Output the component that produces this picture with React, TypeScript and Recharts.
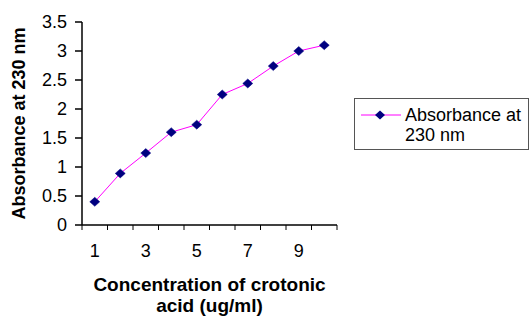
import { LineChart, Line, XAxis, YAxis, Legend } from 'recharts';

const concentration = [1, 2, 3, 4, 5, 6, 7, 8, 9, 10];
const absorbance = [0.4, 0.89, 1.24, 1.6, 1.73, 2.25, 2.44, 2.74, 3.0, 3.1];
const yTicks = [0, 0.5, 1, 1.5, 2, 2.5, 3, 3.5];
// tick marks sit between categories (half values), labels on odd ones
const xTickMarks = [0.5, 1.5, 2.5, 3.5, 4.5, 5.5, 6.5, 7.5, 8.5, 9.5, 10.5];
const xLabels = [1, 3, 5, 7, 9];
const xTicks = [...xTickMarks, ...xLabels].sort((a, b) => a - b);
const seriesName = 'Absorbance at 230 nm';

const FONT = '"Liberation Sans", Arial, sans-serif';
const LINE_COLOR = '#ff00ff';
const MARKER_COLOR = '#000080';

const chartData = concentration.map((x, i) => ({ x, y: absorbance[i] }));

const Diamond = (props: any) => {
  const { cx, cy } = props;
  if (cx == null || cy == null) return null;
  return (
    <polygon
      points={`${cx},${cy - 4.5} ${cx + 5},${cy} ${cx},${cy + 4.5} ${cx - 5},${cy}`}
      fill={MARKER_COLOR}
      stroke={MARKER_COLOR}
      strokeWidth={0.5}
    />
  );
};

const XTick = (props: any) => {
  const { x, y, payload } = props;
  const v = payload.value;
  if (xTickMarks.includes(v)) {
    return <line x1={x} y1={y - 5} x2={x} y2={y} stroke="#000" strokeWidth={1} />;
  }
  return (
    <text x={x} y={y + 27} textAnchor="middle" fontSize={18} fontFamily={FONT} fill="#000">
      {v}
    </text>
  );
};

const XTitle = (props: any) => {
  const vb = props.viewBox || {};
  const cx = vb.x + vb.width / 2;
  return (
    <text textAnchor="middle" fontSize={19} fontWeight="bold" fontFamily={FONT} fill="#000">
      <tspan x={cx} y={vb.y + 66}>Concentration of crotonic</tspan>
      <tspan x={cx} y={vb.y + 87}>acid (ug/ml)</tspan>
    </text>
  );
};

const YTitle = (props: any) => {
  const vb = props.viewBox || {};
  const cy = vb.y + vb.height / 2;
  return (
    <text
      x={19}
      y={cy}
      transform={`rotate(-90, 19, ${cy})`}
      textAnchor="middle"
      dominantBaseline="central"
      fontSize={18}
      fontWeight="bold"
      fontFamily={FONT}
      fill="#000"
    >
      {seriesName}
    </text>
  );
};

const renderLegend = () => (
  <svg width={175} height={52} style={{ display: 'block' }}>
    <rect x={0.5} y={0.5} width={174} height={51} fill="#fff" stroke="#555" strokeWidth={1} />
    <line x1={7} y1={17} x2={47} y2={17} stroke={LINE_COLOR} strokeWidth={1} />
    <polygon points="26,12.5 31,17 26,21.5 21,17" fill={MARKER_COLOR} />
    <text fontFamily={FONT} fontSize={18} fill="#000">
      <tspan x={51} y={23}>Absorbance at</tspan>
      <tspan x={51} y={43}>230 nm</tspan>
    </text>
  </svg>
);

export default function App() {
  return (
    <div style={{ position: 'absolute', left: 0, top: 0, width: 530, height: 316, overflow: 'hidden', background: '#fff' }}>
      <LineChart width={530} height={316} data={chartData} margin={{ top: 22, right: 193, bottom: 0, left: 0 }}>
        <XAxis
          dataKey="x"
          type="number"
          domain={[0.5, 10.5]}
          ticks={xTicks}
          interval={0}
          height={91}
          tickSize={5}
          tickMargin={0}
          tickLine={false}
          tick={<XTick />}
          axisLine={{ stroke: '#000', strokeWidth: 1.5 }}
          label={<XTitle />}
        />
        <YAxis
          type="number"
          domain={[0, 3.5]}
          ticks={yTicks}
          interval={0}
          width={82}
          tickSize={7}
          tickMargin={8}
          tick={{ fontSize: 18, fontFamily: FONT, fill: '#000' }}
          tickLine={{ stroke: '#000', strokeWidth: 1.5 }}
          axisLine={{ stroke: '#000', strokeWidth: 1.5 }}
          label={<YTitle />}
        />
        <Legend
          layout="horizontal"
          verticalAlign="middle"
          align="center"
          content={renderLegend}
          wrapperStyle={{ left: 354, top: 98, width: 175, height: 52 }}
        />
        <Line
          type="linear"
          dataKey="y"
          name={seriesName}
          stroke={LINE_COLOR}
          strokeWidth={1}
          dot={<Diamond />}
          activeDot={false}
          isAnimationActive={false}
        />
      </LineChart>
    </div>
  );
}
